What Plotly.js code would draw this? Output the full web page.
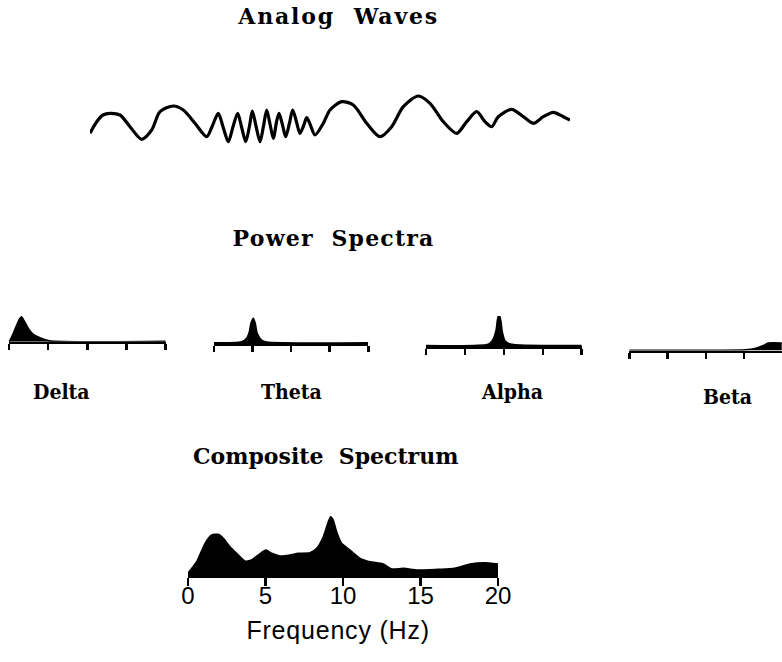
<!DOCTYPE html>
<html>
<head>
<meta charset="utf-8">
<script src="https://cdn.plot.ly/plotly-3.0.1.min.js"></script>
<style>
  html, body { margin: 0; padding: 0; background: #fff; }
  #chart { width: 782px; height: 662px; }
  #chart .annotation[data-index="0"] text { letter-spacing: 1.8px; }
  #chart .annotation[data-index="1"] text { letter-spacing: 1.2px; }
  #chart .annotation[data-index="7"] text { letter-spacing: 0.8px; }
</style>
</head>
<body>
<div id="chart"></div>
<script>
// ---------- DATA ----------
// Analog wave trace (time units, amplitude units)
const waveT = [0, 6.7, 13, 20, 30, 40, 51.7, 61.7, 70, 83.3, 93.3, 105, 116.7, 122, 128.3, 133, 138.3, 143, 147.7, 151.5, 155.7, 159.5, 162.3, 166, 170, 173.5, 176.7, 180, 183.3, 186.5, 189, 192.5, 195.7, 199.5, 202.7, 206.5, 210, 213.5, 216.7, 220, 225, 233.3, 240, 251.7, 263.3, 276.7, 290, 301.7, 313.3, 328.3, 340, 353.3, 366.7, 376.7, 386.7, 395, 401.7, 408.3, 421.7, 433.3, 443.3, 453.3, 463.3, 473.3, 480];
const waveAmp = [-13.3, -1.7, 5, 6.7, 5, -6.7, -19.3, -10, 8.3, 14, 10, -3.3, -16.7, -6.7, 6.7, -6.7, -21.7, -6.7, 6.7, -6.7, -21.7, -6, 9, -6, -21.7, -6, 10, -4, -18.3, -2, 6.7, -5, -16.7, -3, 10, -2, -13.3, -6, 2.3, -4, -15, -3.3, 10, 18.3, 15, -3.3, -16.7, -6.7, 13.3, 24, 16.7, -1.7, -13.3, -1.7, 8.3, -1.7, -6.7, 3.3, 10.7, 3.3, -3.3, 3.3, 7.7, 3.3, 0];

// Band power spectra (frequency Hz, power)
const deltaF = [0, 0.13, 0.55, 0.98, 1.4, 1.62, 1.83, 2.17, 2.6, 3.1, 3.95, 5.14, 20];
const deltaP = [0, 1.7, 8.4, 16.7, 23.4, 25, 22.4, 17.7, 11.7, 7.4, 4, 1, 0.5];
const thetaF = [0, 3.58, 4.23, 4.58, 4.79, 5.1, 5.35, 5.6, 6.17, 6.82, 20];
const thetaP = [0.5, 1.6, 5, 11.6, 20, 25, 20, 10, 3.3, 1.3, 0.5];
const alphaF = [0, 8.0, 8.57, 9.0, 9.17, 9.38, 9.6, 9.8, 10.15, 10.8, 20];
const alphaP = [0.5, 1.7, 6, 16, 26, 32, 26, 14.3, 5.3, 2, 0.5];
const betaF = [0, 15.15, 16.4, 17.5, 18.1, 19.9];
const betaP = [0.3, 0.8, 2, 5, 7.5, 7.5];

// Composite spectrum
const compF = [0, 0.56, 1.1, 1.53, 1.96, 2.28, 2.71, 3.14, 3.68, 4.1, 4.53, 5.03, 5.4, 5.93, 6.58, 7.12, 7.87, 8.3, 8.73, 9.05, 9.2, 9.37, 9.59, 9.91, 10.45, 11.1, 11.74, 12.6, 13.14, 13.9, 14.8, 16.1, 17.2, 18.2, 19.1, 20];
const compP = [2, 13.3, 31.7, 40, 40.7, 36.7, 28.3, 21.7, 14, 15, 20, 25, 21.7, 19, 20, 21.7, 22.3, 26.7, 38.3, 53.3, 58.3, 55, 43.3, 31.7, 25, 16.7, 13.3, 11, 6, 6.7, 5, 5.7, 6.7, 11, 12.3, 11];

const freqTicks = [0, 5, 10, 15, 20];
const bandNames = ['Delta', 'Theta', 'Alpha', 'Beta'];
const titles = ['Analog\u00A0 Waves', 'Power\u00A0 Spectra', 'Composite\u00A0 Spectrum'];
const xTitle = 'Frequency (Hz)';

// ---------- LAYOUT HELPERS ----------
const W = 782, H = 662;
const px = v => v / W;
const py = v => 1 - v / H;

const serifBold = {family: 'DejaVu Serif, Liberation Serif, serif', size: 22, color: '#000', weight: 700};
const labelFont = {family: 'DejaVu Serif Condensed, DejaVu Serif, serif', size: 21, color: '#000', weight: 700};
const sansFont = {family: 'Liberation Sans, Arial, sans-serif', size: 24, color: '#000'};

function hiddenAxis(extra) {
  return Object.assign({showgrid: false, zeroline: false, showline: false, showticklabels: false, ticks: ''}, extra);
}
function smallX(domain, range, anchor) {
  return {domain: domain, range: range, anchor: anchor, showgrid: false, zeroline: false,
    showline: true, linecolor: '#000', linewidth: 2.5, ticks: 'outside', ticklen: 6,
    tickwidth: 2.5, tickcolor: '#000', tickmode: 'array', tickvals: freqTicks, showticklabels: false, fixedrange: true};
}

const spec = (f, p, xa, ya) => ({x: f, y: p, xaxis: xa, yaxis: ya, type: 'scatter', mode: 'lines',
  fill: 'tozeroy', fillcolor: '#000', line: {color: '#000', width: 1.5, shape: 'spline', smoothing: 0.6},
  hoverinfo: 'skip'});

const traces = [
  {x: waveT, y: waveAmp, xaxis: 'x', yaxis: 'y', type: 'scatter', mode: 'lines',
   line: {color: '#000', width: 3.2, shape: 'spline', smoothing: 0.8}, hoverinfo: 'skip'},
  spec(deltaF, deltaP, 'x2', 'y2'),
  spec(thetaF, thetaP, 'x3', 'y3'),
  spec(alphaF, alphaP, 'x4', 'y4'),
  spec(betaF, betaP, 'x5', 'y5'),
  spec(compF, compP, 'x6', 'y6')
];

const betaRange = (W - 629.3) / 7.66;

const layout = {
  width: W, height: H,
  margin: {l: 0, r: 0, t: 0, b: 0},
  paper_bgcolor: '#fff', plot_bgcolor: 'rgba(0,0,0,0)',
  showlegend: false,
  xaxis: hiddenAxis({domain: [px(90), px(570)], range: [0, 480], anchor: 'y'}),
  yaxis: hiddenAxis({domain: [py(150), py(90)], range: [-30, 30], anchor: 'x'}),

  xaxis2: smallX([px(9), px(165.7)], [0, 20], 'y2'),
  yaxis2: hiddenAxis({domain: [py(341.7), py(311.7)], range: [0, 30], anchor: 'x2'}),
  xaxis3: smallX([px(214), px(368.3)], [0, 20], 'y3'),
  yaxis3: hiddenAxis({domain: [py(343.3), py(313.3)], range: [0, 30], anchor: 'x3'}),
  xaxis4: smallX([px(426), px(581.7)], [0, 20], 'y4'),
  yaxis4: hiddenAxis({domain: [py(346), py(316)], range: [0, 30], anchor: 'x4'}),
  xaxis5: smallX([px(629.3), 1], [0, betaRange], 'y5'),
  yaxis5: hiddenAxis({domain: [py(350.5), py(320.5)], range: [0, 30], anchor: 'x5'}),

  xaxis6: {domain: [px(188), px(498)], range: [0, 20], anchor: 'y6', showgrid: false, zeroline: false,
    showline: true, linecolor: '#000', linewidth: 3, ticks: 'outside', ticklen: 8, tickwidth: 2.5,
    tickcolor: '#000', tickmode: 'array', tickvals: freqTicks, ticktext: freqTicks.map(String),
    tickfont: sansFont, ticklabelstandoff: -11, fixedrange: true},
  yaxis6: hiddenAxis({domain: [py(575), py(515)], range: [0, 60], anchor: 'x6'}),

  annotations: [
    {text: titles[0], x: px(337.5), y: py(16), font: serifBold},
    {text: titles[1], x: px(333), y: py(238), font: serifBold},
    {text: titles[2], x: px(325), y: py(456), font: serifBold},
    {text: bandNames[0], x: px(61), y: py(392), font: labelFont},
    {text: bandNames[1], x: px(291), y: py(392), font: labelFont},
    {text: bandNames[2], x: px(512), y: py(392), font: labelFont},
    {text: bandNames[3], x: px(727), y: py(396), font: labelFont},
    {text: xTitle, x: px(338), y: py(630), font: {family: 'Liberation Sans, Arial, sans-serif', size: 25, color: '#000'}}
  ].map(a => Object.assign({xref: 'paper', yref: 'paper', xanchor: 'center', yanchor: 'middle', showarrow: false}, a))
};

Plotly.newPlot('chart', traces, layout, {staticPlot: true, displayModeBar: false});
</script>
</body>
</html>
